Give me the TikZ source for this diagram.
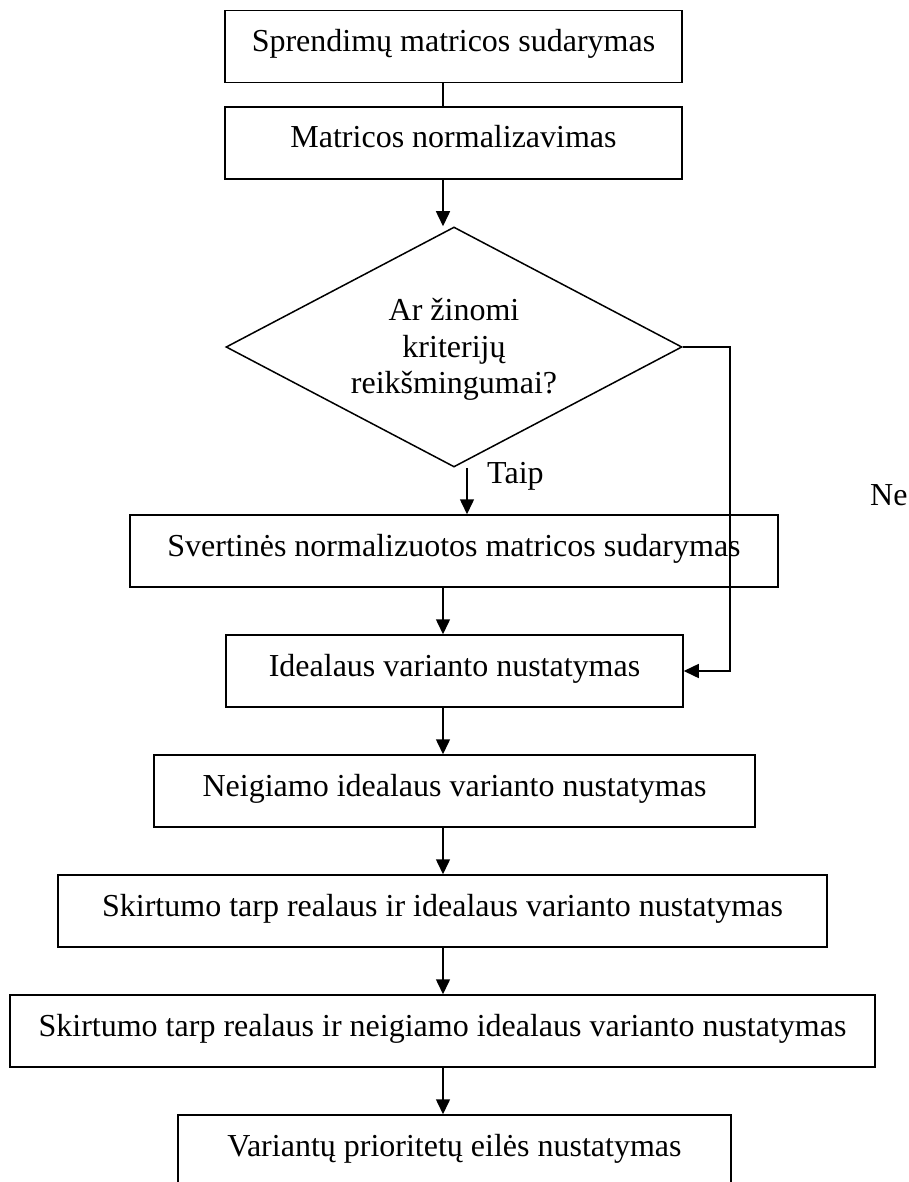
\documentclass[tikz,border=0pt]{standalone}
\usepackage{fontspec}
\setmainfont{Liberation Serif}
\usetikzlibrary{arrows.meta,shapes.geometric}
\begin{document}
\begin{tikzpicture}[x=1pt,y=-1pt,
  every node/.style={font=\fontsize{32}{36.5}\selectfont},
  procbox/.style={draw, line width=1.5pt, rectangle, inner sep=0pt, minimum height=72pt, text height=26pt, text depth=16pt},
  decbox/.style={draw, diamond, line width=1.5pt, inner sep=0pt, minimum width=456pt, minimum height=240pt},
  lbl/.style={inner sep=0pt, anchor=base west},
  conn/.style={line width=1.5pt},
  arr/.style={conn, -{Triangle[length=15pt,width=14pt]}},
]
\useasboundingbox (0,0) rectangle (909,1182);
\coordinate (ax) at (443,0);
\coordinate (tx) at (467,0);
\coordinate (nx) at (730,0);

\node[procbox, minimum width=457pt] (b1) at (453.5,46.5) {Sprendimų matricos sudarymas};
\node[procbox, minimum width=457pt] (b2) at (453.5,143) {Matricos normalizavimas};
\node[decbox] (dec) at (454,347) {};
\node[align=center, inner sep=0pt] (dtext) at (454,349.5) {Ar žinomi\\kriterijų\\reikšmingumai?};
\node[procbox, minimum width=648pt] (b3) at (454,551) {Svertinės normalizuotos matricos sudarymas};
\node[procbox, minimum width=457pt] (b4) at (454.5,671) {Idealaus varianto nustatymas};
\node[procbox, minimum width=601pt] (b5) at (454.5,791) {Neigiamo idealaus varianto nustatymas};
\node[procbox, minimum width=769pt] (b6) at (442.5,911) {Skirtumo tarp realaus ir idealaus varianto nustatymas};
\node[procbox, minimum width=865pt] (b7) at (442.5,1031) {Skirtumo tarp realaus ir neigiamo idealaus varianto nustatymas};
\node[procbox, minimum width=553pt] (b8) at (454.5,1151) {Variantų prioritetų eilės nustatymas};

\node[lbl] (taip) at (487,483) {Taip};
\node[lbl] (ne) at (870,505) {Ne};

\draw[conn] (b1.south -| ax) -- (b2.north -| ax);
\draw[arr] (b2.south -| ax) -- (dec.north -| ax);
\draw[arr] (dec.south -| tx) -- (b3.north -| tx);
\draw[arr] (b3.south -| ax) -- (b4.north -| ax);
\draw[arr] (b4.south -| ax) -- (b5.north -| ax);
\draw[arr] (b5.south -| ax) -- (b6.north -| ax);
\draw[arr] (b6.south -| ax) -- (b7.north -| ax);
\draw[arr] (b7.south -| ax) -- (b8.north -| ax);
\draw[arr] (dec.east) -- (dec.east -| nx) -- (b4.east -| nx) -- (b4.east);
\end{tikzpicture}
\end{document}
